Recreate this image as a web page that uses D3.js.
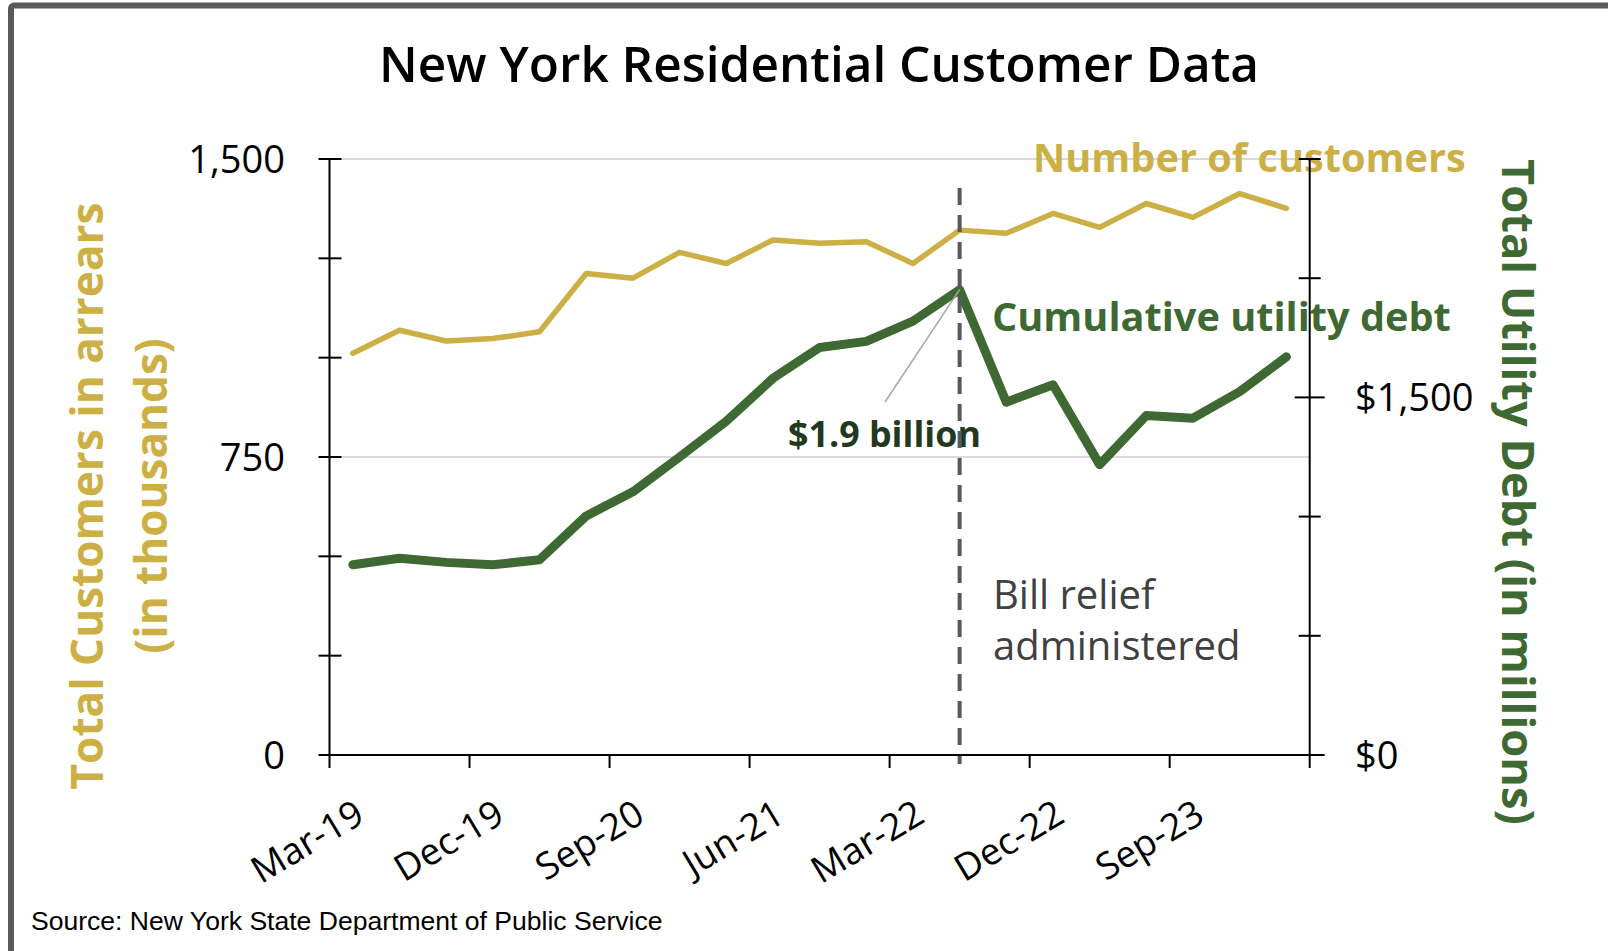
<!DOCTYPE html>
<html>
<head>
<meta charset="utf-8">
<script src="https://cdn.jsdelivr.net/npm/d3@7"></script>
<style>
  html, body { margin: 0; padding: 0; background: #fff; }
  svg { display: block; }
  text { font-family: "Open Sans", "Noto Sans", sans-serif; }
  text.source { font-family: "Liberation Sans", Arial, sans-serif; }
</style>
</head>
<body>
<svg id="chart" width="1608" height="951"></svg>
<script>

/*
 * Chart data.
 */

var quarters = ['Mar-19', 'Jun-19', 'Sep-19', 'Dec-19', 'Mar-20', 'Jun-20', 'Sep-20',
  'Dec-20', 'Mar-21', 'Jun-21', 'Sep-21', 'Dec-21', 'Mar-22', 'Jun-22', 'Sep-22',
  'Dec-22', 'Mar-23', 'Jun-23', 'Sep-23', 'Dec-23', 'Mar-24'];

// Customers in arrears, thousands (left axis).
var customers = [1011, 1069, 1042, 1048, 1065, 1212, 1200, 1265, 1237, 1296, 1288,
  1292, 1237, 1321, 1313, 1363, 1328, 1388, 1353, 1413, 1376];

// Cumulative utility debt, millions (right axis).
var debt = [798, 825, 808, 798, 819, 1003, 1104, 1250, 1400, 1580, 1709,
  1735, 1820, 1952, 1480, 1553, 1218, 1424, 1413, 1524, 1670];

// Axis ticks.
var leftTicks = [0, 250, 500, 750, 1000, 1250, 1500];
var leftLabels = [0, 750, 1500];
var rightTicks = [0, 500, 1000, 1500, 2000, 2500];
var rightLabels = [0, 1500];
var xLabels = ['Mar-19', 'Dec-19', 'Sep-20', 'Jun-21', 'Mar-22', 'Dec-22', 'Sep-23'];

// Bill relief marker and peak callout.
var reliefQuarter = 'Jun-22';
var peakQuarter = 'Jun-22';

/*
 * Layout and colours.
 */

var GOLD = '#CCB045';
var GREEN = '#3F6933';
var DARK = '#22391D';

var plot = { left: 329.5, right: 1309.7, top: 159, bottom: 755 };

var svg = d3.select('#chart');

/*
 * Scale a text node so it spans the given width.
 *
 * @param {Object} sel: d3 selection of one text node.
 * @param {Number} width: Target width in pixels.
 *
 * @return void.
 */
function fitWidth(sel, width) {
  var w = sel.node().getComputedTextLength();
  var size = parseFloat(sel.attr('font-size'));
  sel.attr('font-size', size * width / w);
}

// Scales.
var x = d3.scaleBand()
  .domain(quarters)
  .range([plot.left, plot.right])
  .padding(0);

var yLeft = d3.scaleLinear()
  .domain([0, 1500])
  .range([plot.bottom, plot.top]);

var yRight = d3.scaleLinear()
  .domain([0, 2500])
  .range([plot.bottom, plot.top]);

function cx(q) { return x(q) + x.bandwidth() / 2; }

// Frame.
svg.append('rect')
  .attr('x', 11).attr('y', 5.5)
  .attr('width', 1640).attr('height', 990)
  .attr('rx', 3)
  .attr('fill', 'none')
  .attr('stroke', '#595959')
  .attr('stroke-width', 6);

// Title.
var title = svg.append('text')
  .attr('x', 819).attr('y', 82)
  .attr('text-anchor', 'middle')
  .attr('font-size', 46)
  .attr('font-weight', 600)
  .attr('fill', '#000')
  .text('New York Residential Customer Data');
fitWidth(title, 880);

// Gridlines.
svg.append('g')
  .selectAll('line')
  .data(leftLabels.filter(function(d) { return d > 0; }))
  .join('line')
  .attr('x1', plot.left).attr('x2', plot.right)
  .attr('y1', yLeft).attr('y2', yLeft)
  .attr('stroke', '#d9d9d9')
  .attr('stroke-width', 2);

// Series lines.
var lineLeft = d3.line()
  .x(function(d, i) { return cx(quarters[i]); })
  .y(function(d) { return yLeft(d); });

var lineRight = d3.line()
  .x(function(d, i) { return cx(quarters[i]); })
  .y(function(d) { return yRight(d); });

svg.append('path')
  .datum(customers)
  .attr('d', lineLeft)
  .attr('fill', 'none')
  .attr('stroke', GOLD)
  .attr('stroke-width', 5.5)
  .attr('stroke-linejoin', 'round')
  .attr('stroke-linecap', 'round');

svg.append('path')
  .datum(debt)
  .attr('d', lineRight)
  .attr('fill', 'none')
  .attr('stroke', GREEN)
  .attr('stroke-width', 9)
  .attr('stroke-linejoin', 'round')
  .attr('stroke-linecap', 'round');

// Series labels.
var custLabel = svg.append('text')
  .attr('x', 1033).attr('y', 172)
  .attr('font-size', 38)
  .attr('font-weight', 700)
  .attr('fill', GOLD)
  .text('Number of customers');
fitWidth(custLabel, 433);

var debtLabel = svg.append('text')
  .attr('x', 992).attr('y', 331)
  .attr('font-size', 38)
  .attr('font-weight', 700)
  .attr('fill', GREEN)
  .text('Cumulative utility debt');
fitWidth(debtLabel, 459);

// Peak callout.
var peakIndex = quarters.indexOf(peakQuarter);
svg.append('line')
  .attr('x1', 885).attr('y1', 402)
  .attr('x2', cx(peakQuarter)).attr('y2', yRight(debt[peakIndex]))
  .attr('stroke', '#a6a6a6')
  .attr('stroke-width', 1.5);

var peakLabel = svg.append('text')
  .attr('x', 788).attr('y', 447)
  .attr('font-size', 34)
  .attr('font-weight', 700)
  .attr('fill', DARK)
  .text('$1.9 billion');
fitWidth(peakLabel, 193);

// Bill relief note.
var relief = svg.append('text')
  .attr('x', 993).attr('y', 609)
  .attr('font-size', 40)
  .attr('fill', '#404040');
relief.append('tspan').attr('x', 993).text('Bill relief');
relief.append('tspan').attr('x', 993).attr('y', 660).text('administered');

// Bill relief marker.
svg.append('line')
  .attr('x1', cx(reliefQuarter)).attr('x2', cx(reliefQuarter))
  .attr('y1', 188).attr('y2', 764)
  .attr('stroke', '#595959')
  .attr('stroke-width', 4)
  .attr('stroke-dasharray', '17,10');

// Left axis.
var left = svg.append('g');
left.append('line')
  .attr('x1', plot.left).attr('x2', plot.left)
  .attr('y1', plot.top).attr('y2', plot.bottom)
  .attr('stroke', '#000').attr('stroke-width', 2);
left.selectAll('line.tick')
  .data(leftTicks)
  .join('line')
  .attr('class', 'tick')
  .attr('x1', plot.left - 11).attr('x2', plot.left + 12)
  .attr('y1', yLeft).attr('y2', yLeft)
  .attr('stroke', '#000').attr('stroke-width', 2);
left.selectAll('text')
  .data(leftLabels)
  .join('text')
  .attr('x', 285)
  .attr('y', yLeft)
  .attr('dy', '0.36em')
  .attr('text-anchor', 'end')
  .attr('font-size', 38)
  .attr('fill', '#000')
  .text(d3.format(','));

// Right axis.
var right = svg.append('g');
right.append('line')
  .attr('x1', plot.right).attr('x2', plot.right)
  .attr('y1', plot.top).attr('y2', plot.bottom)
  .attr('stroke', '#000').attr('stroke-width', 2);
right.selectAll('line.tick')
  .data(rightTicks)
  .join('line')
  .attr('class', 'tick')
  .attr('x1', function(d) { return plot.right - (rightLabels.indexOf(d) < 0 ? 11 : 15); })
  .attr('x2', function(d) { return plot.right + (rightLabels.indexOf(d) < 0 ? 11 : 15); })
  .attr('y1', yRight).attr('y2', yRight)
  .attr('stroke', '#000').attr('stroke-width', 2);
right.selectAll('text')
  .data(rightLabels)
  .join('text')
  .attr('x', 1355)
  .attr('y', yRight)
  .attr('dy', '0.36em')
  .attr('font-size', 38)
  .attr('fill', '#000')
  .text(d3.format('$,'));

// Category axis.
var bottom = svg.append('g');
bottom.append('line')
  .attr('x1', plot.left).attr('x2', plot.right)
  .attr('y1', plot.bottom).attr('y2', plot.bottom)
  .attr('stroke', '#000').attr('stroke-width', 2);
bottom.selectAll('line.tick')
  .data(quarters.filter(function(d, i) { return i % 3 === 0; }).concat(['end']))
  .join('line')
  .attr('class', 'tick')
  .attr('x1', function(d) { return d === 'end' ? plot.right : x(d); })
  .attr('x2', function(d) { return d === 'end' ? plot.right : x(d); })
  .attr('y1', plot.bottom).attr('y2', plot.bottom + 13)
  .attr('stroke', '#000').attr('stroke-width', 2);
bottom.selectAll('text')
  .data(xLabels)
  .join('text')
  .attr('transform', function(d) { return 'translate(' + cx(d) + ',798) rotate(-31)'; })
  .attr('dy', '0.72em')
  .attr('text-anchor', 'end')
  .attr('font-size', 37)
  .attr('fill', '#000')
  .text(function(d) { return d; });

// Axis titles.
var leftTitle = svg.append('text')
  .attr('transform', 'translate(103,496) rotate(-90)')
  .attr('text-anchor', 'middle')
  .attr('font-size', 46)
  .attr('font-weight', 700)
  .attr('fill', GOLD)
  .text('Total Customers in arrears');
fitWidth(leftTitle, 587);

svg.append('text')
  .attr('transform', 'translate(167,496) rotate(-90)')
  .attr('text-anchor', 'middle')
  .attr('font-size', parseFloat(leftTitle.attr('font-size')))
  .attr('font-weight', 700)
  .attr('fill', GOLD)
  .text('(in thousands)');

var rightTitle = svg.append('text')
  .attr('transform', 'translate(1502,492) rotate(90)')
  .attr('text-anchor', 'middle')
  .attr('font-size', 46)
  .attr('font-weight', 700)
  .attr('fill', GREEN)
  .text('Total Utility Debt (in millions)');
fitWidth(rightTitle, 666);

// Source note.
var source = svg.append('text')
  .attr('class', 'source')
  .attr('x', 31).attr('y', 930)
  .attr('font-size', 22)
  .attr('fill', '#000')
  .text('Source: New York State Department of Public Service');
fitWidth(source, 632);

</script>
</body>
</html>
